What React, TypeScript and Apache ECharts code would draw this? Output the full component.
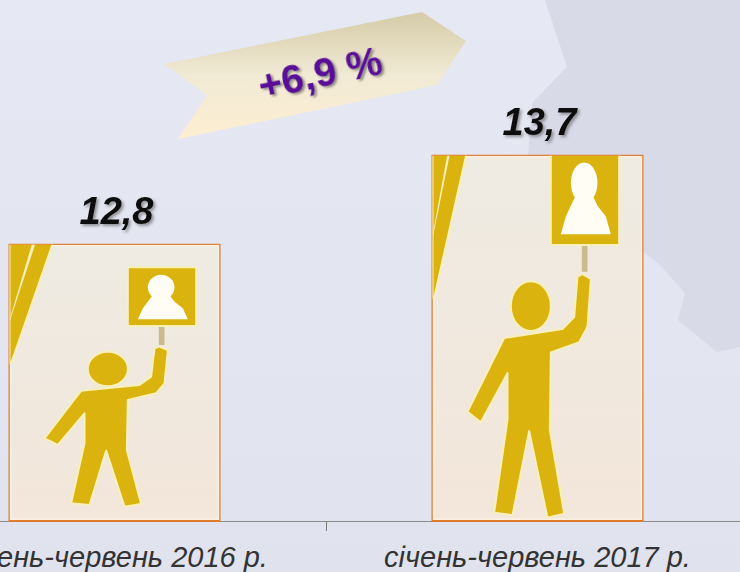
import React, { useEffect, useRef } from "react";
import * as echarts from "echarts";

const categories = ["січень-червень 2016 р.", "січень-червень 2017 р."];
const values = [12.8, 13.7];
const valueLabels = ["12,8", "13,7"];
const changeLabel = "+6,9 %";

const FIGURE = "#dab30f";
const HALO = "#f9efb8";
const PAGE_SHIFT = 97;

// Pictogram outlines, traced in the 3x zoom frame of the first bar.
const personOutline = [
  [465, 505], [480, 500], [505, 510], [495, 610], [470, 640], [385, 660], [382, 810], [425, 972], [375, 980],
  [320, 812], [270, 975], [215, 970], [255, 790], [255, 700], [175, 795], [135, 775], [245, 632],
  [420, 615], [455, 590],
];
const signOutline = [[385, 262], [590, 262], [590, 438], [385, 438]];
const poleOutline = [[478, 438], [495, 438], [495, 495], [478, 495]];
const silhouette = [
  [460, 345], [510, 345], [525, 365], [550, 385], [565, 418], [415, 418], [430, 385], [445, 365],
];
const stripeOutline = [[30, 190], [160, 190], [35, 550], [30, 550]];
const stripeLine = [[98, 190], [108, 190], [32, 420], [30, 420]];

const toLocal = (p: number[]) => [p[0] / 3 - 9, 341 - p[1] / 3];
const rise = (up: number, i: number) => {
  if (i === 0) return up;
  if (up < 134) return 1.55 * up - 19;
  if (up < 195) return 1.433 * up - 3;
  return 1.61 * up - 38;
};

const renderFigure = (params: any, api: any) => {
  const i = params.dataIndex;
  const top = api.coord([api.value(0), api.value(1)]);
  const base = api.coord([api.value(0), 10]);
  const left = top[0] - 106;
  const pts = (arr: number[][]) =>
    arr.map((p) => {
      const l = toLocal(p);
      return [left + l[0], base[1] - rise(l[1], i)];
    });
  const poly = (arr: number[][], fill: string, stroke?: string) => ({
    type: "polygon",
    shape: { points: pts(arr) },
    style: { fill, stroke: stroke || "none", lineWidth: stroke ? 2 : 0, lineJoin: "round" },
  });
  const ell = (cx: number, cy: number, rx: number, ry: number, fill: string, stroke?: string) => {
    const c = pts([[cx, cy]])[0];
    const t = pts([[cx, cy - ry]])[0];
    const b = pts([[cx, cy + ry]])[0];
    return {
      type: "ellipse",
      shape: { cx: c[0], cy: (t[1] + b[1]) / 2, rx: rx / 3, ry: (b[1] - t[1]) / 2 },
      style: { fill, stroke: stroke || "none", lineWidth: stroke ? 2 : 0 },
    };
  };
  return {
    type: "group",
    clipPath: {
      type: "rect",
      shape: { x: left + 1, y: top[1] + 1, width: 210, height: base[1] - top[1] - 2 },
    },
    children: [
      {
        type: "rect",
        shape: { x: left + 2, y: top[1] + 2, width: 208, height: base[1] - top[1] - 4 },
        style: { fill: "none", stroke: "#f9f0e2", lineWidth: 2 },
      },
      poly(stripeOutline, FIGURE, HALO),
      poly(stripeLine, HALO),
      poly(poleOutline, "#c9bb8c"),
      poly(signOutline, FIGURE, HALO),
      ell(485, 322, 40, 38, "#fffdf4"),
      poly(silhouette, "#fffdf4"),
      ell(325, 567, 60, 52, FIGURE, HALO),
      poly(personOutline, FIGURE, HALO),
    ],
  };
};

export default function App() {
  const ref = useRef<HTMLDivElement>(null);
  useEffect(() => {
    document.body.style.margin = "0";
    const chart = echarts.init(ref.current!, undefined, { renderer: "svg" });
    chart.setOption({
      animation: false,
      backgroundColor: new echarts.graphic.LinearGradient(0, 0, 0, 1, [
        { offset: 0, color: "#e6e8f3" },
        { offset: 1, color: "#e0e2ee" },
      ]),
      grid: { left: 0, right: 0, top: 26, bottom: 51 },
      xAxis: {
        type: "category",
        data: categories,
        axisLine: { lineStyle: { color: "#8a8a8a", width: 1 } },
        axisTick: { show: true, length: 10, lineStyle: { color: "#7a7a7a" } },
        axisLabel: {
          interval: 0,
          margin: 21,
          fontFamily: "Liberation Sans",
          fontStyle: "italic",
          fontSize: 29,
          color: "#333333",
        },
      },
      yAxis: { type: "value", min: 10, max: 15, show: false, splitLine: { show: false } },
      graphic: [
        {
          type: "group",
          x: PAGE_SHIFT,
          y: 0,
          silent: true,
          children: [
            {
              type: "polygon",
              z: 0,
              shape: {
                points: [
                  [545, 0], [740, 0], [740, 347], [717, 352], [678, 320], [685, 293], [660, 265], [645, 253],
                  [528, 155], [532, 103], [567, 67],
                ],
              },
              style: { fill: "#d9dae8" },
            },
            {
              type: "polygon",
              z: 1,
              shape: { points: [[164, 64], [422, 12], [466, 41], [437, 85], [178, 139], [207, 95]] },
              style: {
                fill: new echarts.graphic.LinearGradient(0, 0, 0, 1, [
                  { offset: 0, color: "#d5cba8" },
                  { offset: 0.5, color: "#f1ead4" },
                  { offset: 1, color: "#fdeed2" },
                ]),
              },
            },
            {
              type: "text",
              z: 5,
              x: 320,
              y: 73,
              rotation: (12 * Math.PI) / 180,
              style: {
                text: changeLabel,
                fontFamily: "Liberation Sans",
                fontWeight: "bold",
                fontSize: 40,
                fill: "#5a0a96",
                textAlign: "center",
                textVerticalAlign: "middle",
                textShadowColor: "rgba(60,60,60,0.55)",
                textShadowBlur: 2,
                textShadowOffsetX: 2,
                textShadowOffsetY: 2,
              },
            },
          ],
        },
      ],
      series: [
        {
          type: "bar",
          data: values,
          barWidth: 212,
          itemStyle: {
            color: new echarts.graphic.LinearGradient(0, 0, 0, 1, [
              { offset: 0, color: "#eeebe2" },
              { offset: 1, color: "#f3e6da" },
            ]),
            borderColor: "#de7c2c",
            borderWidth: 2,
          },
          label: {
            show: true,
            position: "top",
            distance: 14,
            offset: [2, 0],
            formatter: (p: any) => valueLabels[p.dataIndex],
            fontFamily: "Liberation Sans",
            fontStyle: "italic",
            fontWeight: "bold",
            fontSize: 38,
            color: "#111111",
            textShadowColor: "rgba(60,60,60,0.5)",
            textShadowBlur: 3,
            textShadowOffsetX: 2,
            textShadowOffsetY: 2,
          },
        },
        {
          type: "custom",
          data: values.map((v, i) => [i, v]),
          encode: { x: 0, y: 1 },
          z: 3,
          silent: true,
          clip: false,
          renderItem: renderFigure,
        },
      ],
    });
    return () => chart.dispose();
  }, []);
  return (
    <div style={{ position: "relative", width: 740, height: 572, overflow: "hidden" }}>
      <div ref={ref} style={{ position: "absolute", left: -PAGE_SHIFT, top: 0, width: 846, height: 572 }} />
    </div>
  );
}
